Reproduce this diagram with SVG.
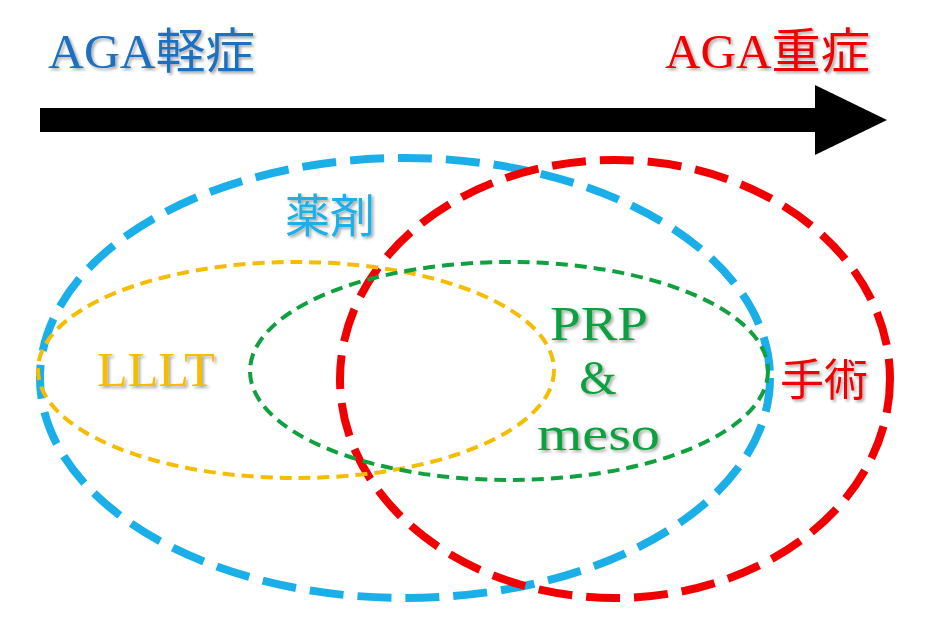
<svg xmlns="http://www.w3.org/2000/svg" width="945" height="620" viewBox="0 0 945 620">
<defs>
<style>
.t{font-family:"Liberation Serif","Noto Sans CJK JP",serif;filter:url(#sh)}
.big{stroke-width:8;stroke-dasharray:34 14;fill:none}
.small{stroke-width:4;stroke-dasharray:12 7;fill:none}
</style>
<filter id="sh" x="-10%" y="-10%" width="130%" height="130%">
<feDropShadow dx="2" dy="2" stdDeviation="1.5" flood-color="#000" flood-opacity="0.35"/>
</filter>
</defs>
<rect width="945" height="620" fill="#fff"/>
<g id="connectors">
<path d="M40 108H815V85L887 120L815 155V132H40Z" fill="#000"/>
</g>
<g id="blue"><ellipse cx="405" cy="378" rx="365" ry="220" class="big" stroke="#1AAFE8"/></g>
<g id="red"><ellipse cx="615" cy="379" rx="275" ry="219" class="big" stroke="#F00000"/></g>
<g id="yellow"><ellipse cx="296" cy="370" rx="258" ry="108" class="small" stroke="#F5BC00"/></g>
<g id="green"><ellipse cx="509" cy="371" rx="259" ry="109" class="small" stroke="#10A040"/></g>
<g id="labels">
<text class="t" x="48" y="68" font-size="48" fill="#1F6FC0" textLength="207" lengthAdjust="spacingAndGlyphs">AGA軽症</text>
<text class="t" x="665" y="68" font-size="48" fill="#F00000" textLength="205" lengthAdjust="spacingAndGlyphs">AGA重症</text>
<text class="t" x="285" y="232" font-size="46" fill="#1AAFE8" textLength="90" lengthAdjust="spacingAndGlyphs">薬剤</text>
<text class="t" x="97" y="386" font-size="48" fill="#F5BC00" textLength="118" lengthAdjust="spacingAndGlyphs">LLLT</text>
<text class="t" x="550" y="340" font-size="48" fill="#10A040" textLength="98" lengthAdjust="spacingAndGlyphs">PRP</text>
<text class="t" x="598" y="394" font-size="48" fill="#10A040" text-anchor="middle">&amp;</text>
<text class="t" x="537" y="450" font-size="48" fill="#10A040" textLength="123" lengthAdjust="spacingAndGlyphs">meso</text>
<text class="t" x="780" y="396" font-size="44" fill="#F00000" textLength="88" lengthAdjust="spacingAndGlyphs">手術</text>
</g>
</svg>
